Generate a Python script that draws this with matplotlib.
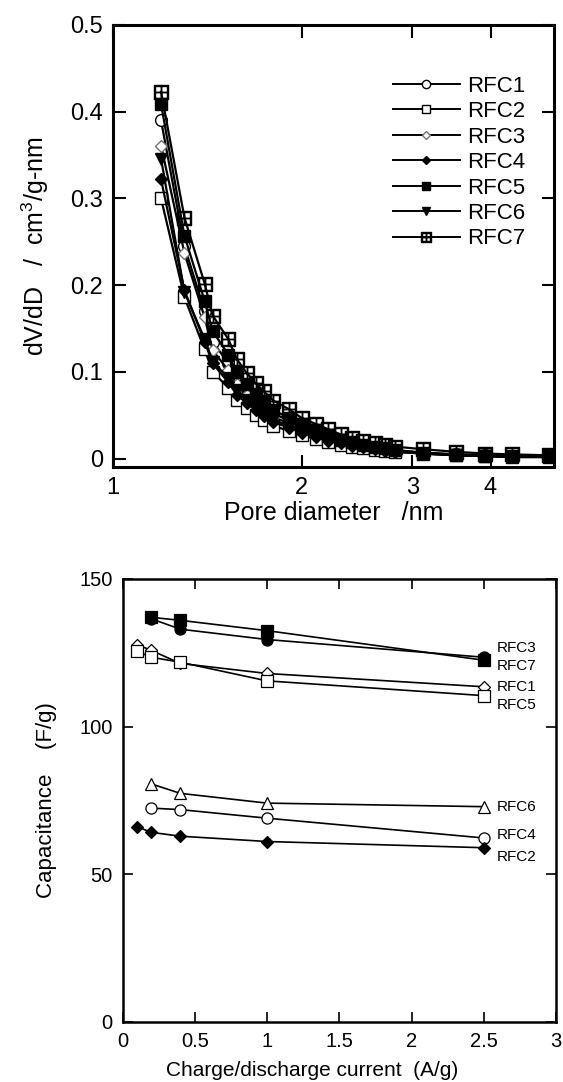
import matplotlib
matplotlib.use("Agg")
import matplotlib.pyplot as plt
from matplotlib.ticker import FixedLocator, FuncFormatter, NullLocator

plt.rcParams['font.family'] = ['Liberation Sans', 'DejaVu Sans']
plt.rcParams['mathtext.default'] = 'regular'

# ---- top panel: pore size distribution ----
diam = [1.193, 1.30, 1.40, 1.442, 1.527, 1.575, 1.633, 1.689, 1.738, 1.802,
        1.909, 2.0, 2.107, 2.205, 2.307, 2.409, 2.507, 2.617, 2.716, 2.817,
        3.118, 3.52, 3.92, 4.33, 4.95]

rfc1 = [0.390, 0.245, 0.170, 0.135, 0.110, 0.093, 0.080, 0.070, 0.061, 0.052,
        0.044, 0.037, 0.031, 0.026, 0.022, 0.019, 0.016, 0.014, 0.012, 0.010,
        0.007, 0.005, 0.004, 0.003, 0.003]
rfc2 = [0.300, 0.186, 0.126, 0.100, 0.082, 0.068, 0.058, 0.051, 0.045, 0.038,
        0.032, 0.027, 0.023, 0.019, 0.016, 0.014, 0.012, 0.010, 0.009, 0.008,
        0.006, 0.004, 0.003, 0.003, 0.003]
rfc3 = [0.361, 0.237, 0.163, 0.125, 0.102, 0.086, 0.074, 0.064, 0.056, 0.048,
        0.041, 0.034, 0.029, 0.024, 0.020, 0.017, 0.015, 0.013, 0.011, 0.009,
        0.007, 0.005, 0.004, 0.003, 0.003]
rfc4 = [0.322, 0.194, 0.135, 0.110, 0.088, 0.074, 0.064, 0.056, 0.049, 0.042,
        0.036, 0.030, 0.025, 0.021, 0.018, 0.015, 0.013, 0.011, 0.009, 0.008,
        0.006, 0.004, 0.003, 0.002, 0.002]
rfc5 = [0.409, 0.257, 0.182, 0.147, 0.120, 0.100, 0.086, 0.075, 0.066, 0.056,
        0.047, 0.039, 0.032, 0.027, 0.022, 0.019, 0.016, 0.014, 0.012, 0.010,
        0.007, 0.004, 0.003, 0.002, 0.002]
rfc6 = [0.346, 0.192, 0.138, 0.112, 0.093, 0.079, 0.068, 0.060, 0.053, 0.045,
        0.038, 0.032, 0.027, 0.023, 0.019, 0.016, 0.014, 0.012, 0.010, 0.009,
        0.006, 0.004, 0.003, 0.002, 0.002]
rfc7 = [0.423, 0.278, 0.202, 0.165, 0.138, 0.115, 0.099, 0.087, 0.078, 0.067,
        0.057, 0.047, 0.040, 0.034, 0.028, 0.024, 0.021, 0.018, 0.016, 0.014,
        0.011, 0.008, 0.006, 0.005, 0.004]

# ---- bottom panel: capacitance vs current ----
cur_a = [0.2, 0.4, 1.0, 2.5]          # filled squares
cap_a = [137.0, 136.0, 132.5, 122.5]
cur_b = [0.2, 0.4, 1.0, 2.5]          # filled circles
cap_b = [136.5, 133.0, 129.5, 123.5]
cur_c = [0.1, 0.2, 0.4, 1.0, 2.5]     # open diamonds
cap_c = [127.8, 125.8, 121.4, 118.0, 113.5]
cur_d = [0.1, 0.2, 0.4, 1.0, 2.5]     # open squares
cap_d = [125.5, 123.5, 121.8, 115.5, 110.5]
cur_e = [0.2, 0.4, 1.0, 2.5]          # open triangles
cap_e = [80.6, 77.4, 74.1, 72.9]
cur_f = [0.2, 0.4, 1.0, 2.5]          # open circles
cap_f = [72.4, 71.9, 69.0, 62.3]
cur_g = [0.1, 0.2, 0.4, 1.0, 2.5]     # filled diamonds
cap_g = [66.1, 64.2, 62.9, 61.1, 59.0]

end_labels = ["RFC3", "RFC7", "RFC1", "RFC5", "RFC6", "RFC4", "RFC2"]
end_label_y = [126.7, 120.5, 113.4, 107.3, 72.9, 63.4, 56.0]

fig = plt.figure(figsize=(5.63, 10.82), dpi=100)

# top axes
ax1 = fig.add_axes([0.2007, 0.5684, 0.7833, 0.4085])
styles = [
    (rfc1, "RFC1", dict(marker='o', mfc='white', mec='black')),
    (rfc2, "RFC2", dict(marker='s', mfc='white', mec='black')),
    (rfc3, "RFC3", dict(marker='D', mfc='white', mec='0.45', ms=6.5)),
    (rfc4, "RFC4", dict(marker='D', mfc='black', mec='black', ms=6.5)),
    (rfc5, "RFC5", dict(marker='s', mfc='black', mec='black')),
    (rfc6, "RFC6", dict(marker='v', mfc='black', mec='black')),
    (rfc7, "RFC7", dict(marker='$\u229e$', mfc='white', mec='black', ms=10)),
]
for vals, name, st in styles:
    kw = dict(color='black', lw=1.6, ms=8.5, mew=1.0)
    kw.update(st)
    ax1.plot(diam, vals, label=name, **kw)

ax1.set_xscale('log')
ax1.set_xlim(1, 5.05)
ax1.set_ylim(-0.0095, 0.5)
ax1.xaxis.set_major_locator(FixedLocator([1, 2, 3, 4]))
ax1.xaxis.set_minor_locator(NullLocator())
ax1.xaxis.set_major_formatter(FuncFormatter(lambda v, p: "%g" % v))
ax1.set_yticks([0, 0.1, 0.2, 0.3, 0.4, 0.5])
ax1.yaxis.set_major_formatter(FuncFormatter(lambda v, p: "%g" % v))
ax1.tick_params(direction='in', length=9, width=1.5, top=True, right=True,
                labelsize=17, pad=7)
for s in ax1.spines.values():
    s.set_linewidth(2.2)
ax1.set_xlabel("Pore diameter   /nm", fontsize=18, labelpad=2)
ax1.set_ylabel("dV/dD   /  cm$^3$/g-nm", fontsize=18, labelpad=14)

leg = ax1.legend(loc='upper left', bbox_to_anchor=(0.635, 0.885), frameon=False,
                 handlelength=3.0, handletextpad=0.35,
                 labelspacing=0.2, borderpad=0, borderaxespad=0, markerscale=0.7,
                 prop={'family': ['Liberation Sans Narrow', 'Liberation Sans'], 'size': 16})
for ln in leg.get_lines():
    ln.set_linewidth(1.4)

# bottom axes
ax2 = fig.add_axes([0.2176, 0.0555, 0.770, 0.4094])
series2 = [
    (cur_a, cap_a, dict(marker='s', mfc='black')),
    (cur_b, cap_b, dict(marker='o', mfc='black')),
    (cur_c, cap_c, dict(marker='D', mfc='white', ms=6.5)),
    (cur_d, cap_d, dict(marker='s', mfc='white')),
    (cur_e, cap_e, dict(marker='^', mfc='white')),
    (cur_f, cap_f, dict(marker='o', mfc='white')),
    (cur_g, cap_g, dict(marker='D', mfc='black', ms=6)),
]
for xs, ys, st in series2:
    kw = dict(color='black', mec='black', lw=1.2, ms=8, mew=0.9)
    kw.update(st)
    ax2.plot(xs, ys, **kw)

for lab, yv in zip(end_labels, end_label_y):
    ax2.text(2.59, yv, lab, fontsize=11, va='center', ha='left')

ax2.set_xlim(0, 3)
ax2.set_ylim(0, 150)
ax2.set_xticks([0, 0.5, 1, 1.5, 2, 2.5, 3])
ax2.xaxis.set_major_formatter(FuncFormatter(lambda v, p: "%g" % v))
ax2.set_yticks([0, 50, 100, 150])
ax2.tick_params(direction='in', length=7, width=1.2, top=True, right=True,
                labelsize=14.5, pad=7)
for s in ax2.spines.values():
    s.set_linewidth(1.8)
ax2.set_xlabel("Charge/discharge current  (A/g)", fontsize=15)
ax2.xaxis.set_label_coords(0.437, -0.088)
ax2.set_ylabel("Capacitance    (F/g)", fontsize=16, labelpad=16)

plt.savefig("out.png", dpi=100)
